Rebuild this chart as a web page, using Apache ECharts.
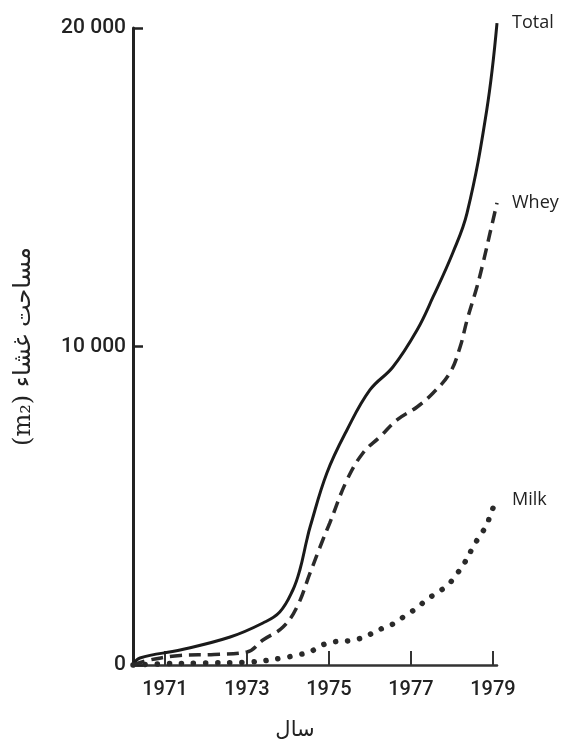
<!DOCTYPE html>
<html>
<head>
<meta charset="utf-8">
<script src="https://cdn.jsdelivr.net/npm/echarts@6/dist/echarts.min.js"></script>
<style>
html,body{margin:0;padding:0;background:#fff;}
#c{width:568px;height:744px;}
</style>
</head>
<body>
<div id="c"></div>
<script>
const xTicks = [1971, 1973, 1975, 1977, 1979];
const yTicks = [0, 10000, 20000];

const totalYears = [1970.22, 1970.39, 1971.37, 1972.59, 1973.39, 1973.80, 1974.12, 1974.29, 1974.46, 1974.54, 1974.95, 1975.44, 1976.00, 1976.56, 1977.15, 1977.54, 1978.02, 1978.37, 1978.85, 1979.10];
const totalValues = [0, 220, 471, 879, 1319, 1664, 2355, 2983, 3925, 4333, 6029, 7379, 8635, 9357, 10519, 11555, 12937, 14193, 17427, 20150];

const wheyYears = [1970.22, 1970.6, 1971.37, 1972.2, 1973.0, 1973.39, 1973.88, 1974.22, 1974.54, 1974.85, 1975.02, 1975.44, 1975.83, 1976.24, 1976.66, 1977.15, 1977.54, 1977.95, 1978.20, 1978.37, 1978.61, 1978.76, 1978.93, 1979.10];
const wheyValues = [0, 150, 300, 330, 408, 785, 1193, 1821, 2889, 3925, 4459, 5809, 6657, 7159, 7693, 8101, 8541, 9169, 9985, 10833, 11869, 12623, 13565, 14507];

const milkYears = [1970.22, 1971.0, 1971.85, 1973.07, 1973.88, 1974.22, 1974.54, 1974.78, 1975.10, 1975.44, 1975.71, 1976.02, 1976.32, 1976.61, 1976.88, 1977.15, 1977.37, 1977.63, 1977.90, 1978.12, 1978.32, 1978.49, 1978.66, 1978.85, 1978.95, 1979.10];
const milkValues = [0, 40, 60, 94, 220, 314, 408, 597, 722, 754, 816, 973, 1162, 1319, 1570, 1790, 2041, 2261, 2512, 2857, 3234, 3642, 4019, 4396, 4773, 5181];

const seriesNames = ['Total', 'Whey', 'Milk'];

function pairs(xs, ys) { return xs.map((x, i) => [x, ys[i]]); }

const chart = echarts.init(document.getElementById('c'), null, {renderer: 'canvas'});
const labelStyle = {show: true, formatter: '{a}', distance: 15, color: '#222', fontSize: 18, fontFamily: 'Open Sans, Liberation Sans, sans-serif'};

chart.setOption({
  animation: false,
  backgroundColor: '#fff',
  grid: {left: 133, right: 71, top: 28, bottom: 79, containLabel: false, outerBoundsMode: 'none'},
  xAxis: {
    type: 'value', min: 1970.22, max: 1979.1,
    name: 'سال', nameLocation: 'middle', nameGap: 55,
    nameTextStyle: {fontFamily: 'DejaVu Sans', fontSize: 21, color: '#222', padding: [0, 40, 0, 0]},
    axisLine: {show: true, lineStyle: {color: '#333', width: 2.5}},
    axisTick: {show: true, inside: true, length: 14, customValues: xTicks, lineStyle: {color: '#333', width: 2}},
    axisLabel: {customValues: xTicks, margin: 15, color: '#222', fontSize: 20, fontWeight: 500, fontFamily: 'Roboto, Liberation Sans, sans-serif', formatter: v => String(Math.round(v))},
    splitLine: {show: false}
  },
  yAxis: {
    type: 'value', min: 0, max: 20000, interval: 10000,
    name: '(m₂) مساحت غشاء', nameLocation: 'middle', nameRotate: 90, nameGap: 97,
    nameTextStyle: {fontFamily: 'DejaVu Serif, DejaVu Sans', fontSize: 24, color: '#222'},
    axisLine: {show: true, lineStyle: {color: '#222', width: 3}},
    axisTick: {show: true, inside: true, length: 10, lineStyle: {color: '#222', width: 2.5}},
    axisLabel: {margin: 7, color: '#222', fontSize: 21, fontWeight: 500, fontFamily: 'Roboto, Liberation Sans, sans-serif',
      formatter: v => v === 0 ? '0' : String(v).replace(/(\d)(?=(\d{3})+$)/g, '$1 ')},
    splitLine: {show: false}
  },
  series: [
    {name: seriesNames[0], type: 'line', data: pairs(totalYears, totalValues), smooth: 0.4, showSymbol: false, clip: false,
     lineStyle: {color: '#1a1a1a', width: 3}, endLabel: labelStyle},
    {name: seriesNames[1], type: 'line', data: pairs(wheyYears, wheyValues), smooth: 0.4, showSymbol: false, clip: false,
     lineStyle: {color: '#2a2a2a', width: 3.5, type: [12, 7]}, endLabel: labelStyle},
    {name: seriesNames[2], type: 'line', data: pairs(milkYears, milkValues), smooth: 0.4, showSymbol: false, clip: false,
     lineStyle: {color: '#2a2a2a', width: 5.5, type: [0.1, 12], cap: 'round'}, endLabel: labelStyle}
  ]
});
</script>
</body>
</html>
